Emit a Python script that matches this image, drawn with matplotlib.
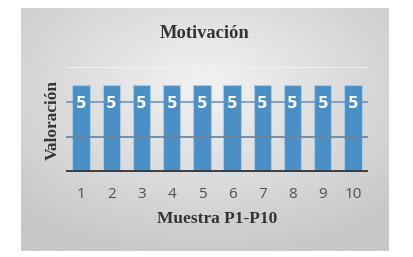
import numpy as np
import matplotlib.pyplot as plt

# data
muestras = ['1', '2', '3', '4', '5', '6', '7', '8', '9', '10']
valoracion = [5, 5, 5, 5, 5, 5, 5, 5, 5, 5]

W, H = 413, 257
fig = plt.figure(figsize=(W / 100, H / 100), dpi=100)
fig.patch.set_facecolor('white')

# gray gradient panel behind the chart
bg = fig.add_axes([21 / W, 1 - 251 / H, 368 / W, 243 / H])
yy, xx = np.mgrid[-1:1:200j, -1:1:300j]
r = np.sqrt((xx * 0.9) ** 2 + ((yy + 0.35) * 0.9) ** 2)
shade = 0.95 - 0.17 * np.clip(r, 0, 1.3) / 1.3
bg.imshow(shade, cmap='gray', vmin=0, vmax=1, aspect='auto',
          extent=[0, 1, 0, 1], interpolation='bicubic')
bg.set_axis_off()

ax = fig.add_axes([66 / W, 1 - 172 / H, 302 / W, 105 / H])
ax.set_facecolor('none')
x = np.arange(len(muestras))
bars = ax.bar(x, valoracion, width=0.57, color='#4a8fc5',
              edgecolor='#a9cbe6', linewidth=0.8, zorder=3)

for b, v in zip(bars, valoracion):
    ax.annotate(str(v), (b.get_x() + b.get_width() / 2, v),
                xytext=(0, -14), textcoords='offset points',
                ha='center', va='center', color='white',
                fontsize=11, fontweight='bold', zorder=6)

ax.set_xlim(-0.5, len(muestras) - 0.5)
ax.set_ylim(0, 6)
ax.axhline(4, color='#5f90bd', linewidth=1.2, zorder=4, alpha=0.9)
ax.axhline(2, color='#6a86a0', linewidth=1.4, zorder=4, alpha=0.9)
ax.axhline(6, color='#f4f4f4', linewidth=1.2, zorder=2)
ax.axhline(0, color='#3c3c3c', linewidth=3.5, zorder=5)

ax.set_yticks([])
ax.set_xticks(x)
ax.set_xticklabels(muestras, fontsize=11, color='#505050', family='Open Sans')
ax.tick_params(axis='x', length=0, pad=11)
for s in ax.spines.values():
    s.set_visible(False)

ax.set_xlabel('Muestra P1-P10', family='Liberation Serif', fontweight='bold',
              fontsize=12.5, color='#333333', labelpad=6)
ax.set_ylabel('Valoración', family='Liberation Serif', fontweight='bold',
              fontsize=12.5, color='#333333', labelpad=4)
fig.text(205 / W, 1 - 34 / H, 'Motivación', family='Liberation Serif',
         fontweight='bold', fontsize=13.3, color='#333333',
         ha='center', va='center')

fig.savefig('out.png', dpi=100, facecolor='white')
